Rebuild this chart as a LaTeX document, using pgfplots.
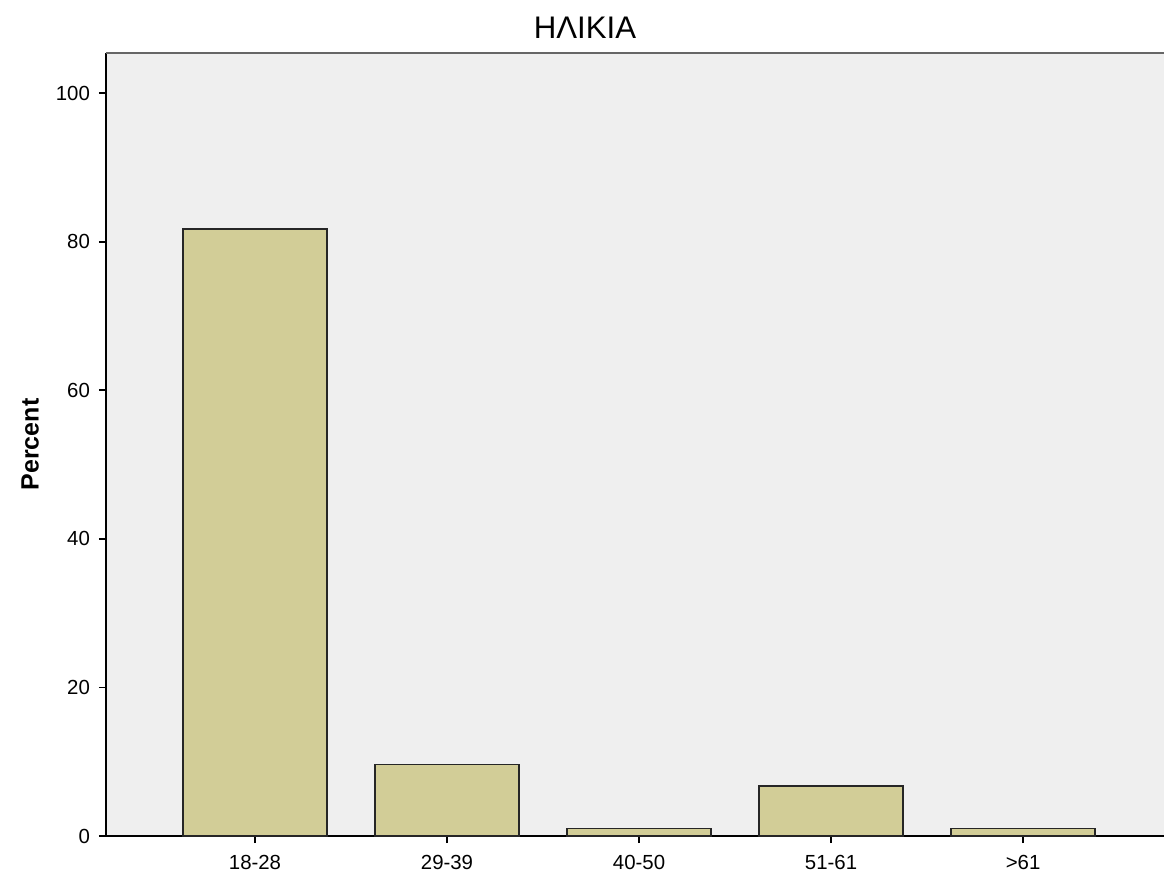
\documentclass[border=0pt]{standalone}
\usepackage{pgfplots}
\pgfplotsset{compat=1.18}
\usepackage{fontspec}
\setmainfont{Liberation Sans}
\definecolor{bgc}{RGB}{239,239,239}
\definecolor{barc}{RGB}{210,205,151}
\begin{document}
\begin{tikzpicture}
\path[use as bounding box] (-53pt,-19.5pt) rectangle (529pt,418pt);
\begin{axis}[
  at={(0,0)}, anchor=south west,
  scale only axis, width=529pt, height=391.5pt,
  xmin=-0.776, xmax=4.734, ymin=0, ymax=105.4,
  axis lines*=left,
  axis line style={line width=1pt, black},
  axis background/.style={fill=bgc},
  ytick={0,20,40,60,80,100},
  xtick={0,1,2,3,4},
  xticklabels={18-28,29-39,40-50,51-61,>61},
  tick align=outside, major tick length=3.5pt,
  tick style={black, line width=0.9pt},
  ticklabel style={font=\fontsize{10.2}{12}\selectfont},
  xticklabel style={yshift=-2.5pt},
  yticklabel style={xshift=-1pt},
  /pgf/number format/assume math mode=true,
  ybar, bar width=0.75,
  ylabel={Percent},
  ylabel style={font=\bfseries\fontsize{12.5}{14}\selectfont, at={(axis description cs:-0.0718,0.5)}, anchor=center},
  every axis title shift=0pt,
  title={ΗΛΙΚΙΑ},
  title style={font=\fontsize{15.6}{18}\selectfont, at={(axis description cs:0.4527,1.0319)}, anchor=center, yshift=0pt},
]
\addplot[fill=barc, draw=black!85, line width=0.75pt] coordinates {(0,81.7) (1,9.6) (2,1.0) (3,6.7) (4,1.0)};
\draw[black!60, line width=1pt] (rel axis cs:0,1) -- (rel axis cs:1,1);
\end{axis}
\end{tikzpicture}
\end{document}
